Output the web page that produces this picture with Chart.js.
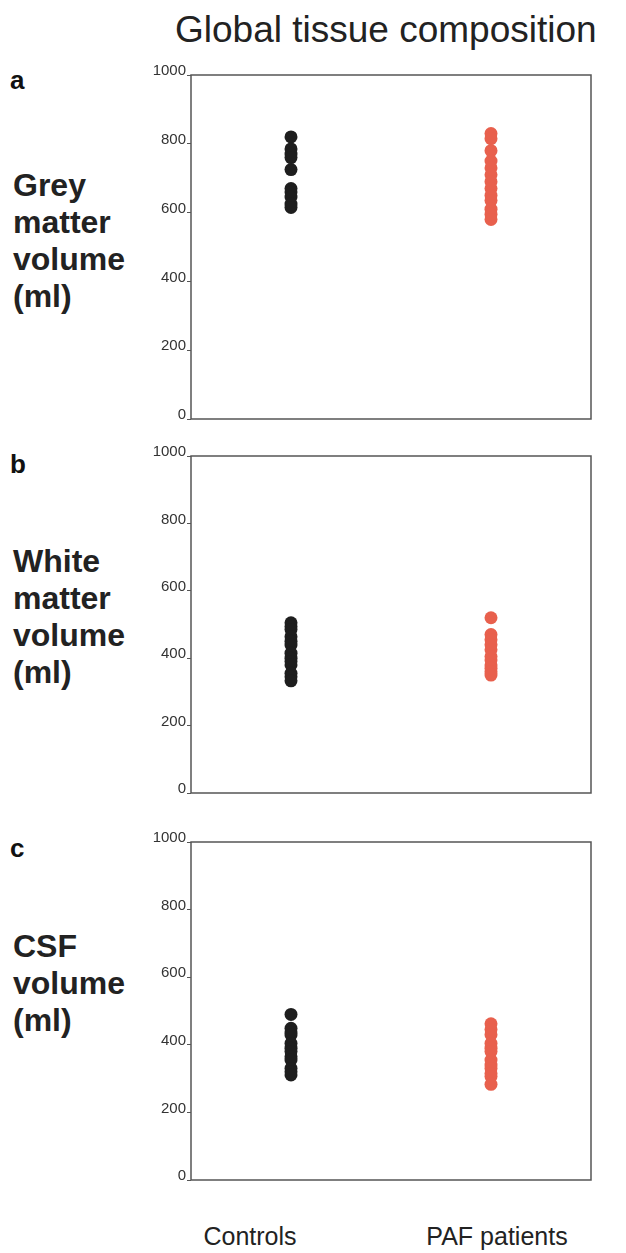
<!DOCTYPE html>
<html>
<head>
<meta charset="utf-8">
<script src="https://cdn.jsdelivr.net/npm/chart.js@4.4.1/dist/chart.umd.min.js"></script>
<style>
  html, body { margin: 0; padding: 0; background: #fff; }
  body { width: 626px; height: 1253px; position: relative; overflow: hidden;
         font-family: 'Liberation Sans', Arial, sans-serif; color: #222; }
  .abs { position: absolute; white-space: nowrap; }
  .title { font-size: 37px; top: 9px; left: 175px; color: #222; }
  .letter { font-size: 26px; font-weight: bold; left: 10px; color: #111; }
  .ytitle { font-size: 32px; font-weight: bold; left: 13px; line-height: 37px; color: #222; }
  .cat { font-size: 25px; top: 1222px; transform: translateX(-50%); color: #222; }
  canvas { position: absolute; }
</style>
</head>
<body>
<div class="abs title">Global tissue composition</div>

<div class="abs letter" style="top:65px">a</div>
<div class="abs letter" style="top:449px">b</div>
<div class="abs letter" style="top:833px">c</div>

<div class="abs ytitle" style="top:167px">Grey<br>matter<br>volume<br>(ml)</div>
<div class="abs ytitle" style="top:543px">White<br>matter<br>volume<br>(ml)</div>
<div class="abs ytitle" style="top:928px">CSF<br>volume<br>(ml)</div>

<canvas id="panelA" width="471" height="364" style="left:130px; top:65px"></canvas>
<canvas id="panelB" width="471" height="357" style="left:130px; top:446px"></canvas>
<canvas id="panelC" width="471" height="358" style="left:130px; top:832px"></canvas>

<div id="catControls" class="abs cat" style="left:250px"></div>
<div id="catPaf" class="abs cat" style="left:497px"></div>

<script>
// groups
const categories = ['Controls', 'PAF patients'];
const yTicks = [0, 200, 400, 600, 800, 1000];

// grey matter volume (ml)
const greyControls = [820, 785, 770, 760, 725, 670, 660, 645, 625, 615];
const greyPaf = [830, 815, 780, 750, 730, 710, 690, 670, 650, 635, 610, 595, 580];

// white matter volume (ml)
const whiteControls = [505, 494, 485, 464, 450, 439, 415, 400, 390, 380, 355, 345, 333];
const whitePaf = [520, 470, 455, 440, 425, 405, 395, 380, 370, 360, 350];

// CSF volume (ml)
const csfControls = [490, 449, 438, 429, 404, 390, 380, 365, 355, 330, 320, 311];
const csfPaf = [462, 445, 430, 404, 390, 380, 355, 340, 330, 315, 306, 283];

const colors = ['#1e1e1e', '#e8604d'];

document.getElementById('catControls').textContent = categories[0];
document.getElementById('catPaf').textContent = categories[1];

/** Plot atrofidagi ramka */
const framePlugin = {
    id: 'frame',
    afterDraw(chart) {
        const { ctx, chartArea: a } = chart;
        ctx.save();
        ctx.strokeStyle = '#555';
        ctx.lineWidth = 1.5;
        ctx.strokeRect(a.left, a.top, a.right - a.left, a.bottom - a.top);
        ctx.restore();
    }
};

function makePanel(canvasId, controls, paf) {
    const ctx = document.getElementById(canvasId);
    return new Chart(ctx, {
        type: 'scatter',
        data: {
            datasets: [
                {
                    label: categories[0],
                    data: controls.map(v => ({ x: 1, y: v })),
                    backgroundColor: colors[0],
                    borderWidth: 0,
                    pointRadius: 6.5,
                },
                {
                    label: categories[1],
                    data: paf.map(v => ({ x: 3, y: v })),
                    backgroundColor: colors[1],
                    borderWidth: 0,
                    pointRadius: 6.5,
                }
            ]
        },
        options: {
            responsive: false,
            animation: false,
            devicePixelRatio: 1,
            layout: { padding: { top: 10, right: 10, bottom: 10, left: 0 } },
            plugins: { legend: { display: false }, tooltip: { enabled: false } },
            scales: {
                x: { type: 'linear', min: 0, max: 4, display: false },
                y: {
                    min: 0, max: 1000,
                    afterBuildTicks(axis) { axis.ticks = yTicks.map(v => ({ value: v })); },
                    afterFit(axis) { axis.width = 61; },
                    grid: { display: true, drawOnChartArea: false, drawTicks: true, tickLength: 4, color: '#555', lineWidth: 1 },
                    border: { display: false },
                    ticks: {
                        color: '#333',
                        font: { family: "'Liberation Sans', Arial, sans-serif", size: 15 },
                        padding: 1,
                        labelOffset: -4,
                        callback: v => String(v),
                    }
                }
            }
        },
        plugins: [framePlugin]
    });
}

makePanel('panelA', greyControls, greyPaf);
makePanel('panelB', whiteControls, whitePaf);
makePanel('panelC', csfControls, csfPaf);
</script>
</body>
</html>
